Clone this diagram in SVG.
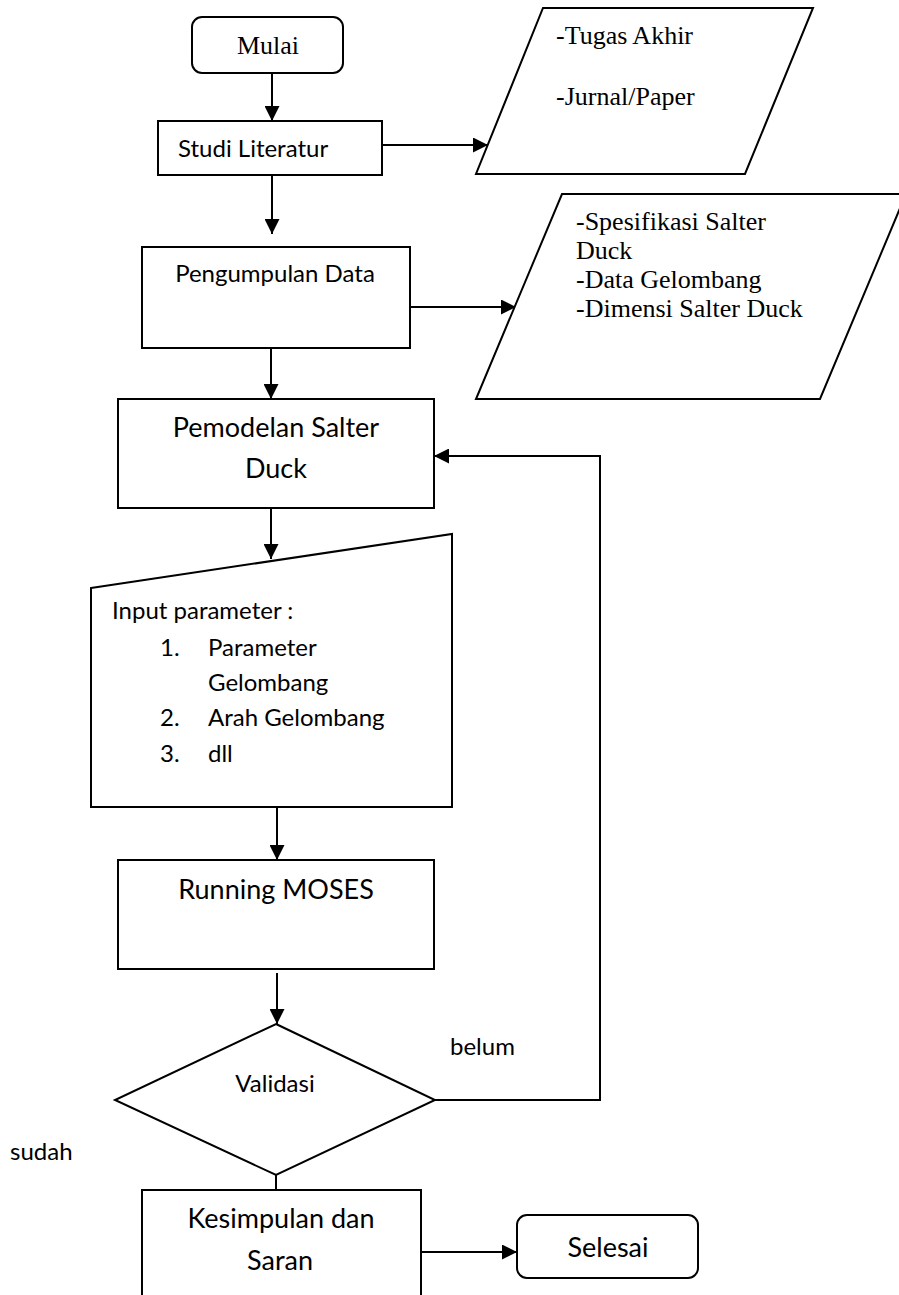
<svg xmlns="http://www.w3.org/2000/svg" width="899" height="1295" viewBox="0 0 899 1295">
<style>
.box{fill:#fff;stroke:#000;stroke-width:2}
.ln{fill:none;stroke:#000;stroke-width:2}
.sans{font-family:Lato,"Open Sans","Liberation Sans",sans-serif;font-size:24px;fill:#000}
.big{font-size:27px}
.serif{font-family:"Liberation Serif","Times New Roman",serif;font-size:26px;fill:#000}
.c{text-anchor:middle}
</style>
<defs>
<marker id="ah" markerUnits="userSpaceOnUse" markerWidth="15" markerHeight="15" refX="15" refY="7.5" orient="auto">
<path d="M0,0 L15,7.5 L0,15 z" fill="#000"/>
</marker>
</defs>
<g id="connectors">
<line class="ln" x1="272" y1="60" x2="272" y2="121" marker-end="url(#ah)"/>
<line class="ln" x1="382" y1="145" x2="488" y2="145" marker-end="url(#ah)"/>
<line class="ln" x1="272" y1="175" x2="272" y2="234" marker-end="url(#ah)"/>
<line class="ln" x1="410" y1="307" x2="516" y2="307" marker-end="url(#ah)"/>
<line class="ln" x1="271" y1="348" x2="271" y2="399" marker-end="url(#ah)"/>
<line class="ln" x1="271" y1="508" x2="271" y2="559" marker-end="url(#ah)"/>
<line class="ln" x1="277" y1="807" x2="277" y2="860" marker-end="url(#ah)"/>
<line class="ln" x1="277" y1="973" x2="277" y2="1024" marker-end="url(#ah)"/>
<line class="ln" x1="276" y1="1175" x2="276" y2="1190"/>
<line class="ln" x1="417" y1="1252" x2="517" y2="1252" marker-end="url(#ah)"/>
<polyline class="ln" points="435,1100 600,1100 600,456 434,456" marker-end="url(#ah)"/>
</g>
<g id="mulai">
<rect class="box" x="192" y="17" width="151" height="56" rx="10"/>
<text class="serif c" x="268" y="54">Mulai</text>
</g>
<g id="studi">
<rect class="box" x="158" y="121" width="224" height="54"/>
<text class="sans" x="178" y="157">Studi Literatur</text>
</g>
<g id="referensi">
<polygon class="box" points="543,8 813,8 745,174 476,174"/>
<text class="serif" x="556" y="44">-Tugas Akhir</text>
<text class="serif" x="556" y="105">-Jurnal/Paper</text>
</g>
<g id="pengumpulan">
<rect class="box" x="142" y="247" width="268" height="101"/>
<text class="sans c" x="275" y="282">Pengumpulan Data</text>
</g>
<g id="data">
<polygon class="box" points="562,194 906,194 820,399 476,399"/>
<text class="serif" x="576" y="230">-Spesifikasi Salter</text>
<text class="serif" x="576" y="259">Duck</text>
<text class="serif" x="576" y="288">-Data Gelombang</text>
<text class="serif" x="576" y="317">-Dimensi Salter Duck</text>
</g>
<g id="pemodelan">
<rect class="box" x="118" y="399" width="316" height="109"/>
<text class="sans big c" x="276" y="437">Pemodelan Salter</text>
<text class="sans big c" x="276" y="478">Duck</text>
</g>
<g id="input">
<polygon class="box" points="91,588 452,534 452,807 91,807"/>
<text class="sans" x="112" y="619">Input parameter :</text>
<text class="sans" x="160" y="656">1.</text>
<text class="sans" x="208" y="656">Parameter</text>
<text class="sans" x="208" y="691">Gelombang</text>
<text class="sans" x="160" y="726">2.</text>
<text class="sans" x="208" y="726">Arah Gelombang</text>
<text class="sans" x="160" y="762">3.</text>
<text class="sans" x="208" y="762">dll</text>
</g>
<g id="running">
<rect class="box" x="118" y="860" width="316" height="109"/>
<text class="sans big c" x="276" y="899">Running MOSES</text>
</g>
<g id="validasi">
<polygon class="box" points="276,1024 435,1100 276,1175 115,1100"/>
<text class="sans c" x="275" y="1092">Validasi</text>
</g>
<g id="labels">
<text class="sans" x="450" y="1055">belum</text>
<text class="sans" x="10" y="1160">sudah</text>
</g>
<g id="kesimpulan">
<rect class="box" x="142" y="1190" width="279" height="120"/>
<text class="sans big c" x="281" y="1228">Kesimpulan dan</text>
<text class="sans big c" x="280" y="1270">Saran</text>
</g>
<g id="selesai">
<rect class="box" x="517" y="1215" width="181" height="63" rx="10"/>
<text class="sans big c" x="608" y="1257">Selesai</text>
</g>
</svg>
